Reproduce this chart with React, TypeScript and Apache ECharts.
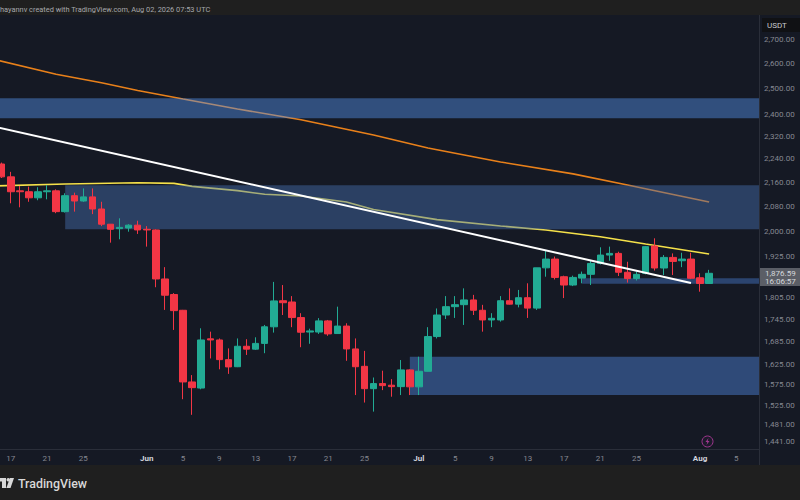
import React, { useEffect, useRef } from "react";
import * as echarts from "echarts";

const categories = [
  "May 16","May 17","May 18","May 19","May 20","May 21","May 22","May 23","May 24","May 25","May 26","May 27","May 28","May 29","May 30","May 31",
  "Jun 1","Jun 2","Jun 3","Jun 4","Jun 5","Jun 6","Jun 7","Jun 8","Jun 9","Jun 10","Jun 11","Jun 12","Jun 13","Jun 14","Jun 15","Jun 16","Jun 17","Jun 18","Jun 19","Jun 20","Jun 21","Jun 22","Jun 23","Jun 24","Jun 25","Jun 26","Jun 27","Jun 28","Jun 29","Jun 30",
  "Jul 1","Jul 2","Jul 3","Jul 4","Jul 5","Jul 6","Jul 7","Jul 8","Jul 9","Jul 10","Jul 11","Jul 12","Jul 13","Jul 14","Jul 15","Jul 16","Jul 17","Jul 18","Jul 19","Jul 20","Jul 21","Jul 22","Jul 23","Jul 24","Jul 25","Jul 26","Jul 27","Jul 28","Jul 29","Jul 30","Jul 31",
  "Aug 1","Aug 2","Aug 3","Aug 4","Aug 5","Aug 6","Aug 7",
];
const timeTicks: Record<string, string> = {
  "May 17": "17", "May 21": "21", "May 25": "25", "Jun 1": "Jun", "Jun 5": "5", "Jun 9": "9", "Jun 13": "13", "Jun 17": "17", "Jun 21": "21", "Jun 25": "25",
  "Jul 1": "Jul", "Jul 5": "5", "Jul 9": "9", "Jul 13": "13", "Jul 17": "17", "Jul 21": "21", "Jul 25": "25", "Aug 1": "Aug", "Aug 5": "5",
};
const priceTicks = [2700, 2600, 2500, 2400, 2320, 2240, 2160, 2080, 2000, 1925, 1805, 1745, 1685, 1625, 1575, 1525, 1481, 1441];

const opens = [2222,2178,2131,2128,2108,2128,2131,2063,2115,2097.5,2111,2071.5,2023,2009,2011,2020,2007,2005,1857.5,1813,1769,1582,1567,1692,1689,1638,1620,1672.5,1665,1680,1724,1795.5,1792,1749,1710,1710,1740,1706,1726,1665.5,1621,1565.5,1578,1574,1570.5,1612,1570,1608.5,1698,1756,1779,1784.5,1797.7,1769,1742.5,1742.5,1795.5,1786,1804,1775,1890,1916,1864,1840,1860,1871,1903,1928,1933,1877,1858.5,1874,1955.5,1889.5,1921,1911,1916,1861,1844.5];
const closes = [2178,2128,2128,2108,2128,2131,2063,2115,2097.5,2111,2071.5,2023,2007,2013,2020,2005,2005,1857.5,1811,1768,1582,1568,1689,1689,1638,1619.5,1672.5,1665,1680,1724,1795,1790,1749,1709.5,1713,1740,1705,1726,1665.5,1620,1565.5,1578,1573,1570.5,1612,1570,1608.5,1698,1756,1779,1784.5,1797.7,1769,1742.5,1747,1795.5,1786,1804,1775,1890,1916,1862,1840,1862,1871,1903,1928,1933,1877,1858.5,1871,1953.5,1889.5,1921,1909,1916,1859.5,1844.5,1874];
const lows = [2174,2090,2077,2095,2100,2103,2058,2060,2063,2095,2055,2017,1965.6,1976,1999.5,1992.5,1953.5,1833.7,1770,1715.6,1540,1503,1564,1641,1613.5,1602,1619,1650,1663,1654.5,1708.5,1756,1723,1670,1679,1705,1700,1705,1635,1550,1532,1510.5,1562,1546,1550,1550,1550,1608,1693,1745,1748,1729,1756,1711,1723,1738,1785,1777,1748,1770,1864,1856,1803,1837,1845,1840,1900,1911,1866,1847,1853,1871,1882,1869,1869,1892,1857,1821,1843];
const highs = [2227,2195,2147,2145,2143,2150,2136,2123,2125,2139,2139,2095,2023,2041.7,2023,2034,2017,2007,1892,1817,1770,1599,1720,1711,1693,1667,1693,1691,1696,1729,1849,1840,1808.5,1761,1719,1747.5,1742.5,1779,1733.5,1693,1660.5,1593,1610,1589,1637,1613.5,1645.5,1723,1774,1808.5,1808.5,1830.5,1812,1784,1761,1808.5,1830.5,1826,1845,1890,1943,1923.5,1867,1867,1879,1913,1951.5,1953.5,1938,1908,1879,1955.5,1979,1928,1933,1935,1935,1874,1884];

const orangeLine: [number, number][] = [[-1,2617],[6,2556],[11,2522],[15,2492],[20,2459],[26,2421],[33,2381],[41,2325],[47,2278],[55,2229],[63,2188],[69,2150.5],[78,2094]];
const yellowLine: [number, number][] = [[-1,2147],[7,2154],[15,2158],[19,2156],[21,2146],[26,2131.6],[29,2119.6],[33,2114],[38,2094.5],[41,2070],[48,2037.5],[55,2017.5],[60,2005],[66,1984],[71,1961.5],[78,1931]];
const whiteLine: [number, number][] = [[-1,2356.6],[76.1,1846]];

const boxStarts = [-1, 6.87, 44.9, 63.8];
const boxTops = [2461.6, 2150, 1645.5, 1859.5];
const boxBottoms = [2386, 2007, 1550, 1843.5];
const boxColors = ["rgba(85,147,234,0.45)", "rgba(70,114,178,0.45)", "rgba(79,136,223,0.45)", "rgba(72,122,205,0.45)"];

const headerText = "hayannv created with TradingView.com, Aug 02, 2026 07:53 UTC";
const quoteUnit = "USDT";
const lastPrice = "1,876.59";
const countdown = "16:06:57";
const brand = "TradingView";

const BG = "#151924";
const BAR = "#1f1f1f";
const FONT = "Roboto, sans-serif";
const UP = "#22ab94";
const DOWN = "#f23645";

export default function App() {
  const ref = useRef<HTMLDivElement>(null);
  useEffect(() => {
    const chart = echarts.init(ref.current!, undefined, { renderer: "svg", width: 803, height: 500 });
    const candleData = opens.map((o, i) => [o, closes[i], lows[i], highs[i]]);
    chart.setOption({
      animation: false,
      backgroundColor: BG,
      grid: { left: 0.17, right: 41, top: 15, bottom: 51 },
      xAxis: {
        type: "category",
        data: categories,
        boundaryGap: true,
        axisLine: { show: true, lineStyle: { color: "#2a2e39", width: 1 } },
        axisTick: { show: false },
        splitLine: { show: false },
        axisLabel: {
          margin: 5,
          fontSize: 8,
          fontFamily: FONT,
          color: "#858891",
          interval: (_i: number, v: string) => v in timeTicks,
          formatter: (v: string) => {
            const t = timeTicks[v];
            return /[A-Za-z]/.test(t) ? `{m|${t}}` : t;
          },
          rich: { m: { fontSize: 8, fontFamily: FONT, fontWeight: 700, color: "#d1d4dc" } },
        },
      },
      yAxis: {
        type: "log",
        logBase: 10,
        min: 1425,
        max: 2803,
        position: "right",
        axisLine: { show: true, lineStyle: { color: "#2a2e39", width: 1 } },
        axisTick: { show: false },
        splitLine: { show: false },
        minorTick: { show: false },
        axisLabel: {
          customValues: priceTicks,
          margin: 5,
          fontSize: 8,
          fontFamily: FONT,
          color: "#858891",
          formatter: (v: number) =>
            Math.round(v).toLocaleString("en-US", { minimumFractionDigits: 2, maximumFractionDigits: 2 }),
        },
      },
      series: [
        {
          type: "line", name: "MA200", data: orangeLine, z: 1, symbol: "none", smooth: false, silent: true,
          lineStyle: { color: "#e8801a", width: 1.6 },
        },
        {
          type: "line", name: "MA100", data: yellowLine, z: 1, symbol: "none", smooth: false, silent: true,
          lineStyle: { color: "#f5e14a", width: 1.6 },
        },
        {
          type: "custom", name: "zones", z: 2, clip: true, silent: true,
          data: boxTops.map((t, i) => [i, t, boxBottoms[i]]),
          encode: { x: 0, y: [1, 2] },
          renderItem: (params: any, api: any) => {
            const i = params.dataIndex;
            const a = api.coord([boxStarts[i], boxTops[i]]);
            const b = api.coord([83.5, boxBottoms[i]]);
            return {
              type: "rect",
              shape: { x: a[0], y: a[1], width: b[0] - a[0], height: b[1] - a[1] },
              style: { fill: boxColors[i] },
            };
          },
        },
        {
          type: "candlestick", name: "ETHUSDT", data: candleData, z: 3, barWidth: 7, silent: true,
          itemStyle: { color: UP, color0: DOWN, borderColor: UP, borderColor0: DOWN, borderWidth: 1 },
        },
        {
          type: "line", name: "trend", data: whiteLine, z: 4, symbol: "none", silent: true,
          lineStyle: { color: "#ffffff", width: 2 },
        },
      ],
      graphic: [
        {
          type: "group",
          x: 3,
          y: 0,
          z: 100,
          children: [
            { type: "rect", z: 100, shape: { x: -3, y: 0, width: 803, height: 15 }, style: { fill: BAR } },
            { type: "text", z: 101, x: 0, y: 9, style: { text: headerText, fill: "#a6a8ac", font: `7.4px ${FONT}`, verticalAlign: "middle" } },
            { type: "rect", z: 100, shape: { x: -3, y: 465, width: 803, height: 35 }, style: { fill: BAR } },
            { type: "line", z: 100, shape: { x1: 759.5, y1: 15, x2: 759.5, y2: 465 }, style: { stroke: "#2a2e39", lineWidth: 1 } },
            { type: "rect", z: 101, shape: { x: 762, y: 18, width: 38, height: 14 }, style: { fill: "#101114" } },
            { type: "text", z: 102, x: 767, y: 25, style: { text: quoteUnit, fill: "#c8cad0", font: `8px ${FONT}`, verticalAlign: "middle" } },
            { type: "rect", z: 101, shape: { x: 760, y: 268, width: 40, height: 18 }, style: { fill: "#5b5e66" } },
            { type: "text", z: 102, x: 765, y: 273, style: { text: lastPrice, fill: "#d6d8dc", font: `8px ${FONT}`, verticalAlign: "middle" } },
            { type: "text", z: 102, x: 765, y: 281, style: { text: countdown, fill: "#d6d8dc", font: `8px ${FONT}`, verticalAlign: "middle" } },
            { type: "circle", z: 101, shape: { cx: 707.5, cy: 441.5, r: 5.5 }, style: { fill: "#1c1a2a", stroke: "#a0378f", lineWidth: 1 } },
            { type: "polygon", z: 102, shape: { points: [[708.5, 438], [705.5, 442], [707.3, 442], [706.5, 445], [709.5, 441], [707.7, 441]] }, style: { fill: "#a0378f" } },
            { type: "rect", z: 101, shape: { x: -3, y: 478, width: 9, height: 3.5 }, style: { fill: "#d8d8d8" } },
            { type: "rect", z: 101, shape: { x: 2, y: 478, width: 4, height: 10 }, style: { fill: "#d8d8d8" } },
            { type: "circle", z: 101, shape: { cx: 8.3, cy: 479.8, r: 1.8 }, style: { fill: "#d8d8d8" } },
            { type: "polygon", z: 101, shape: { points: [[10, 478], [14, 478], [10.5, 488], [6.3, 488]] }, style: { fill: "#d8d8d8" } },
            { type: "text", z: 101, x: 18, y: 483, style: { text: brand, fill: "#d8d8d8", font: `500 12.4px ${FONT}`, verticalAlign: "middle" } },
          ],
        },
      ],
    });
    return () => chart.dispose();
  }, []);
  return <div ref={ref} style={{ position: "fixed", left: -3, top: 0, width: 803, height: 500 }} />;
}
